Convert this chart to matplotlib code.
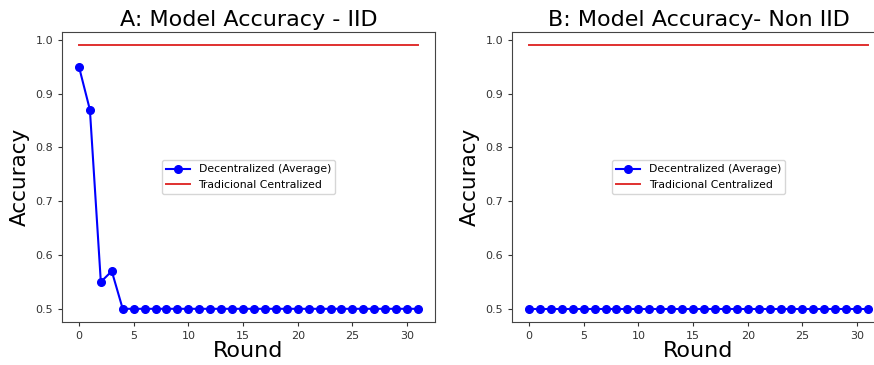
import matplotlib
matplotlib.use("Agg")
import matplotlib.pyplot as plt

rounds = list(range(32))
iid_acc = [0.95, 0.87, 0.55, 0.57] + [0.50] * 28
noniid_acc = [0.50] * 32
central_acc = [0.99] * 32

titles = ["A: Model Accuracy - IID", "B: Model Accuracy- Non IID"]
series = [iid_acc, noniid_acc]

fig = plt.figure(figsize=(8.74, 3.65), dpi=100)
lefts = [62 / 874, 512 / 874]
w = (435 - 62) / 874
b = 1 - 322 / 365
h = (322 - 32) / 365

for left, title, acc in zip(lefts, titles, series):
    ax = fig.add_axes([left, b, w, h])
    ax.plot(rounds, acc, color="blue", marker="o", markersize=5.5, lw=1.5,
            label="Decentralized (Average)")
    ax.plot(rounds, central_acc, color="#e0302f", lw=1.4,
            label="Tradicional Centralized")
    ax.set_title(title, fontsize=16, pad=4)
    ax.set_xlabel("Round", fontsize=16, labelpad=0)
    ax.set_ylabel("Accuracy", fontsize=15.5, labelpad=4)
    ax.set_xticks([0, 5, 10, 15, 20, 25, 30])
    ax.set_yticks([0.5, 0.6, 0.7, 0.8, 0.9, 1.0])
    ax.tick_params(labelsize=8, length=3, colors="#333333")
    for s in ax.spines.values():
        s.set_color("#444444")
    ax.legend(loc="center", fontsize=7.8, handlelength=2.2)

fig.savefig("out.png", dpi=100)
